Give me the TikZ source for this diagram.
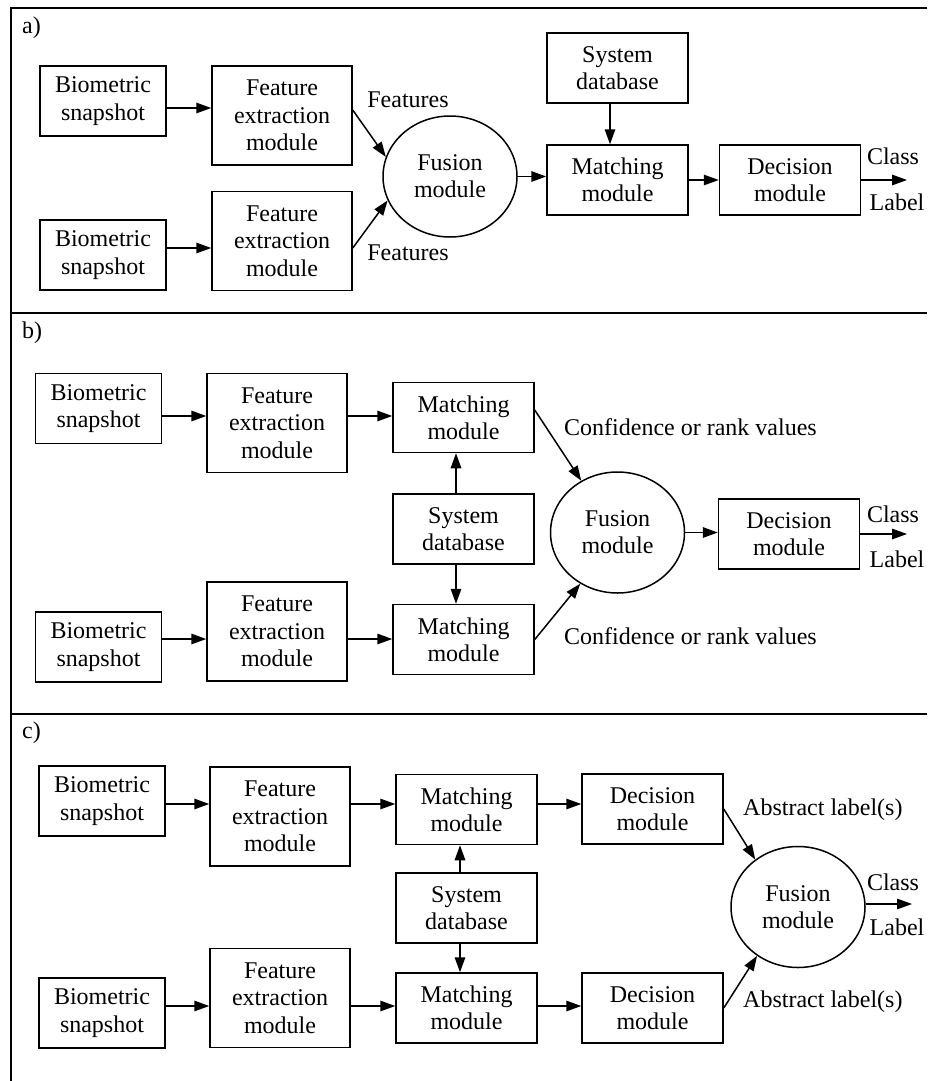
\documentclass[tikz,border=0pt]{standalone}
\usepackage{fontspec}
\setmainfont{Liberation Serif}
\usetikzlibrary{arrows.meta,shapes.geometric}
\begin{document}
\begin{tikzpicture}[x=1pt,y=-1pt,
  every node/.style={font=\fontsize{24}{27.3}\selectfont, inner sep=0pt},
  blk/.style={draw, line width=1.5pt, align=center},
  bio/.style={blk, minimum width=126pt, minimum height=70pt},
  fex/.style={blk, minimum width=140pt, minimum height=99pt},
  mod/.style={blk, minimum width=141pt, minimum height=70pt},
  fus/.style={draw, ellipse, line width=1.5pt, align=center, minimum width=134pt, minimum height=121pt},
  arr/.style={line width=1.5pt, -{Triangle[length=15pt,width=10.5pt]}},
  lbl/.style={anchor=west},
  frame/.style={line width=1.8pt}]
\useasboundingbox (0,0) rectangle (927,1081);
% frame
\draw[frame] (927,8) -- (11,8) -- (11,1081);
\draw[frame] (11,313) -- (927,313);
\draw[frame] (11,714) -- (927,714);
% ---------------- a)
\node[lbl] (ta) at (22,28) {a)};
\node[bio] (bioA1) at (103,101) {Biometric\\snapshot};
\node[fex] (feA1) at (282,115.5) {Feature\\extraction\\module};
\node[bio] (bioA2) at (103,255) {Biometric\\snapshot};
\node[fex] (feA2) at (282,241) {Feature\\extraction\\module};
\node[fus] (fusA) at (450,176.5) {Fusion\\module};
\node[mod] (sysA) at (617.5,68) {System\\database};
\node[mod] (mA) at (617.5,180) {Matching\\module};
\node[mod] (dA) at (790,180) {Decision\\module};
\coordinate (outA) at (907,180);
\coordinate (ra1) at (0,108);
\coordinate (ra2) at (0,248);
\node (fa1) at (408,100) {Features};
\node (fa2) at (408,253) {Features};
\node (ca) at (893,156) {Class};
\node (la) at (897,202) {Label};
\draw[arr] (bioA1.east |- ra1) -- (feA1.west |- ra1);
\draw[arr] (bioA2.east |- ra2) -- (feA2.west |- ra2);
\draw[arr] ([yshift=5.5pt]feA1.east) -- (fusA.163);
\draw[arr] ([yshift=-7pt]feA2.east) -- (fusA.201);
\draw[arr] (fusA.east) -- (fusA.east -| mA.west);
\draw[arr] ([xshift=-7.5pt]sysA.south) -- ([xshift=-7.5pt]mA.north);
\draw[arr] (mA.east) -- (dA.west);
\draw[arr] (dA.east) -- (outA);
% ---------------- b)
\node[lbl] (tb) at (22,333) {b)};
\node[bio] (bioB1) at (98.5,408.5) {Biometric\\snapshot};
\node[fex] (feB1) at (277,423) {Feature\\extraction\\module};
\node[mod] (mB1) at (463.5,417.5) {Matching\\module};
\node[mod] (sysB) at (463.5,529) {System\\database};
\node[mod] (mB2) at (463.5,639.5) {Matching\\module};
\node[bio] (bioB2) at (98.5,647) {Biometric\\snapshot};
\node[fex] (feB2) at (277,631.5) {Feature\\extraction\\module};
\node[fus] (fusB) at (617.5,532.5) {Fusion\\module};
\node[mod] (dB) at (789,534) {Decision\\module};
\coordinate (outB) at (907,534);
\coordinate (rb1) at (0,416);
\coordinate (rb2) at (0,639);
\node[lbl] (cb1) at (564,427) {Confidence or rank values};
\node[lbl] (cb2) at (564,636) {Confidence or rank values};
\node (cb) at (893,514) {Class};
\node (lb) at (897,559) {Label};
\draw[arr] (bioB1.east |- rb1) -- (feB1.west |- rb1);
\draw[arr] (feB1.east |- rb1) -- (mB1.west |- rb1);
\draw[arr] (bioB2.east |- rb2) -- (feB2.west |- rb2);
\draw[arr] (feB2.east |- rb2) -- (mB2.west |- rb2);
\draw[arr] ([xshift=-7.5pt]sysB.north) -- ([xshift=-7.5pt]mB1.south);
\draw[arr] ([xshift=-7.5pt]sysB.south) -- ([xshift=-7.5pt]mB2.north);
\draw[arr] ([yshift=7.5pt]mB1.east) -- (fusB.125);
\draw[arr] (mB2.east) -- (fusB.234);
\draw[arr] (fusB.east) -- (fusB.east -| dB.west);
\draw[arr] (dB.east) -- (outB);
% ---------------- c)
\node[lbl] (tc) at (22,733) {c)};
\node[bio] (bioC1) at (102,801) {Biometric\\snapshot};
\node[fex] (feC1) at (280,816.5) {Feature\\extraction\\module};
\node[mod] (mC1) at (466.5,809.5) {Matching\\module};
\node[mod] (sysC) at (466.5,908) {System\\database};
\node[mod] (mC2) at (466.5,1008) {Matching\\module};
\node[mod] (dC1) at (652.5,809) {Decision\\module};
\node[mod] (dC2) at (652.5,1008) {Decision\\module};
\node[bio] (bioC2) at (102,1013) {Biometric\\snapshot};
\node[fex] (feC2) at (280,998) {Feature\\extraction\\module};
\node[fus] (fusC) at (798,907) {Fusion\\module};
\coordinate (outC) at (912,904);
\coordinate (rc1) at (0,804);
\coordinate (rc2) at (0,1006);
\node[lbl] (ac1) at (743,810) {Abstract label(s)};
\node[lbl] (ac2) at (743,1002) {Abstract label(s)};
\node (cc) at (893,882) {Class};
\node (lc) at (897,927) {Label};
\draw[arr] (bioC1.east |- rc1) -- (feC1.west |- rc1);
\draw[arr] (feC1.east |- rc1) -- (mC1.west |- rc1);
\draw[arr] (mC1.east |- rc1) -- (dC1.west |- rc1);
\draw[arr] (bioC2.east |- rc2) -- (feC2.west |- rc2);
\draw[arr] (feC2.east |- rc2) -- (mC2.west |- rc2);
\draw[arr] (mC2.east |- rc2) -- (dC2.west |- rc2);
\draw[arr] ([xshift=-6.5pt]sysC.north) -- ([xshift=-6.5pt]mC1.south);
\draw[arr] ([xshift=-6.5pt]sysC.south) -- ([xshift=-6.5pt]mC2.north);
\draw[arr] (dC1.east) -- (fusC.132);
\draw[arr] (dC2.east) -- (fusC.230);
\draw[arr] ([yshift=3pt]fusC.east) -- (outC);
\end{tikzpicture}
\end{document}
